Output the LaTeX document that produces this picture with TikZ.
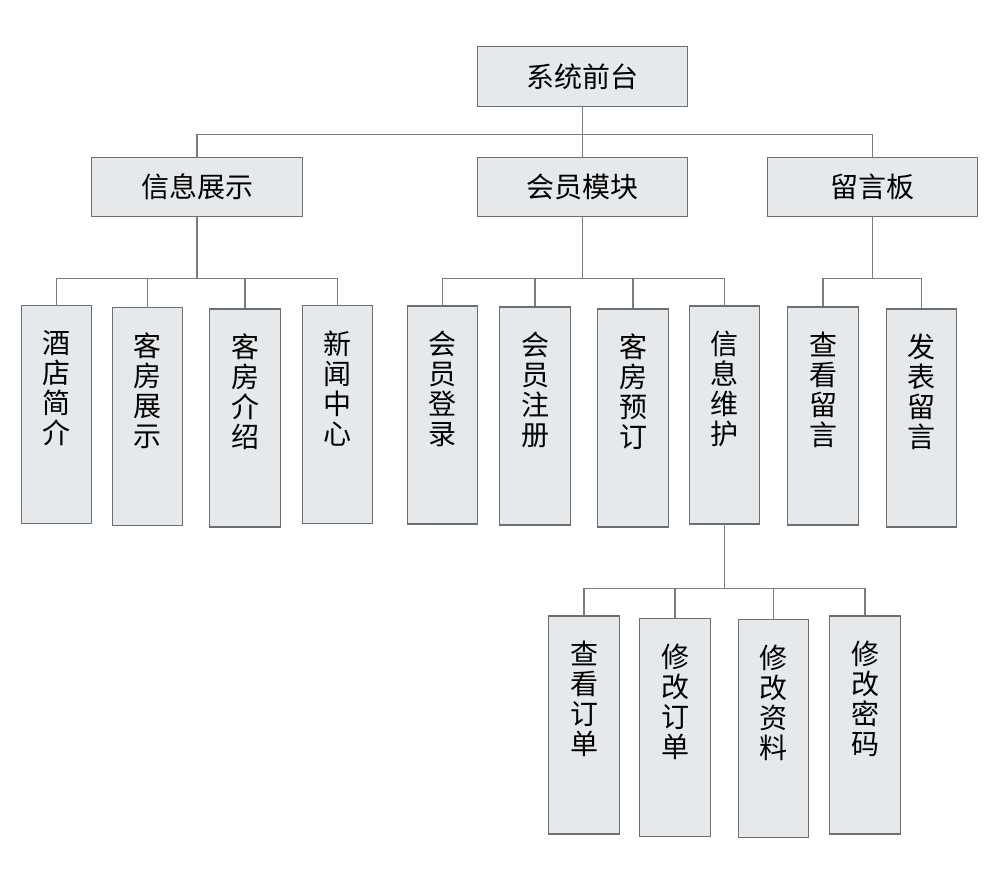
\documentclass[tikz,border=0pt]{standalone}
\usepackage{fontspec}
\setmainfont{Noto Sans CJK SC}
\usepackage{tikz}
\usetikzlibrary{calc}

\definecolor{boxfill}{HTML}{E6E9EC}
\definecolor{boxline}{HTML}{6E6E6E}
\definecolor{wire}{HTML}{7C7C7C}

\tikzset{
	widebox/.style={draw=boxline,fill=boxfill,line width=0.8pt,inner sep=0pt,
		minimum width=158pt,minimum height=44.5pt,
		font=\fontsize{21}{22.5}\selectfont},
	tallbox/.style={draw=boxline,fill=boxfill,line width=0.8pt,inner sep=0pt,
		minimum width=53pt,minimum height=163.5pt},
	vtext/.style={anchor=north,yshift=-19pt,inner sep=0pt,align=center,
		font=\fontsize{21}{22.5}\selectfont},
	wire/.style={draw=wire,line width=0.8pt}
}

\begin{document}
\begin{tikzpicture}[x=0.75pt,y=-0.75pt]
	\useasboundingbox[fill=white] (0,0) rectangle (985,880);
	% top level
	\node[widebox] (sys) at (582.5,76.5) {系统前台};
	\node[widebox] (info) at (197,187) {信息展示};
	\node[widebox] (member) at (582.5,187) {会员模块};
	\node[widebox] (board) at (872.5,187) {留言板};
	% info children
	\node[tallbox,label={[vtext]north:酒\\店\\简\\介}] (hotel) at (56.5,414.5) {};
	\node[tallbox,label={[vtext]north:客\\房\\展\\示}] (rooms) at (147.5,416.5) {};
	\node[tallbox,label={[vtext]north:客\\房\\介\\绍}] (intro) at (245,418) {};
	\node[tallbox,label={[vtext]north:新\\闻\\中\\心}] (news) at (337.5,414.5) {};
	% member children
	\node[tallbox,label={[vtext]north:会\\员\\登\\录}] (login) at (442.5,415) {};
	\node[tallbox,label={[vtext]north:会\\员\\注\\册}] (signup) at (535,416) {};
	\node[tallbox,label={[vtext]north:客\\房\\预\\订}] (booking) at (633,418) {};
	\node[tallbox,label={[vtext]north:信\\息\\维\\护}] (upkeep) at (724.5,415) {};
	% board children
	\node[tallbox,label={[vtext]north:查\\看\\留\\言}] (readmsg) at (823,416) {};
	\node[tallbox,label={[vtext]north:发\\表\\留\\言}] (postmsg) at (921.5,418) {};
	% upkeep children
	\node[tallbox,label={[vtext]north:查\\看\\订\\单}] (vieword) at (584,725) {};
	\node[tallbox,label={[vtext]north:修\\改\\订\\单}] (editord) at (675,727.5) {};
	\node[tallbox,label={[vtext]north:修\\改\\资\\料}] (editdata) at (773.5,728.5) {};
	\node[tallbox,label={[vtext]north:修\\改\\密\\码}] (editpwd) at (865,725) {};

	% connectors
	\coordinate (bus0) at ($(sys.south)+(0,28)$);
	\draw[wire] (sys.south) -- (bus0);
	\draw[wire] (info.north) |- (bus0) -| (board.north);
	\draw[wire] (bus0) -- (member.north);

	\coordinate (bus1) at ($(info.south)+(0,61)$);
	\draw[wire] (info.south) -- (bus1);
	\draw[wire] (hotel.north) |- (bus1) -| (news.north);
	\draw[wire] (rooms.north) -- (rooms.north |- bus1);
	\draw[wire] (intro.north) -- (intro.north |- bus1);

	\coordinate (bus2) at ($(member.south)+(0,61)$);
	\draw[wire] (member.south) -- (bus2);
	\draw[wire] (login.north) |- (bus2) -| (upkeep.north);
	\draw[wire] (signup.north) -- (signup.north |- bus2);
	\draw[wire] (booking.north) -- (booking.north |- bus2);

	\coordinate (bus3) at ($(board.south)+(0,61)$);
	\draw[wire] (board.south) -- (bus3);
	\draw[wire] (readmsg.north) |- (bus3) -| (postmsg.north);

	\coordinate (bus4) at ($(upkeep.south)+(0,64)$);
	\draw[wire] (upkeep.south) -- (bus4);
	\draw[wire] (vieword.north) |- (bus4) -| (editpwd.north);
	\draw[wire] (editord.north) -- (editord.north |- bus4);
	\draw[wire] (editdata.north) -- (editdata.north |- bus4);
\end{tikzpicture}
\end{document}
